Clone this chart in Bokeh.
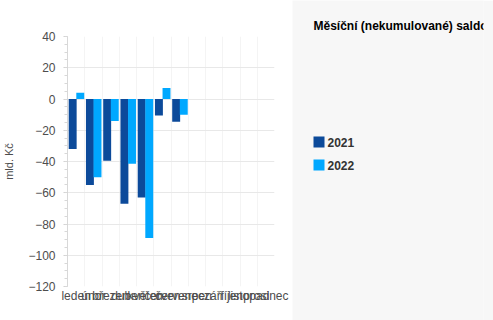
import math
from bokeh.plotting import figure
from bokeh.layouts import row
from bokeh.models import FixedTicker, Range1d, ColumnDataSource
from bokeh.core.properties import value
from bokeh.embed import file_html
from bokeh.resources import INLINE

months = ["leden", "únor", "březen", "duben", "květen", "červen", "červenec",
          "srpen", "září", "říjen", "listopad", "prosinec"]
v2021 = [-32, -55, -39.5, -67, -63, -10.5, -14.5, None, None, None, None, None]
v2022 = [4, -50, -14, -41.5, -89, 7, -10, None, None, None, None, None]
series_names = ["2021", "2022"]
series_colors = ["#0c4a9a", "#00a8ff"]
y_ticks = [-120, -100, -80, -60, -40, -20, 0, 20, 40]
title_text = "Měsíční (nekumulované) saldo"
y_title = "mld. Kč"

FONT = "Liberation Sans"

p = figure(width=292, height=320, output_backend="svg", toolbar_location=None,
           x_range=Range1d(0, len(months)), y_range=Range1d(-120, 40),
           min_border_left=66, min_border_right=18, min_border_top=36, min_border_bottom=34)
p.outline_line_color = None
p.background_fill_color = "white"
p.border_fill_color = "white"

offsets = [-0.2, 0.24]
width = 0.46
for vals, off, col in zip([v2021, v2022], offsets, series_colors):
    xs = [i + 0.5 + off for i, v in enumerate(vals) if v is not None]
    ys = [v for v in vals if v is not None]
    src = ColumnDataSource(dict(x=xs, top=ys))
    p.vbar(x="x", top="top", bottom=0, width=width, source=src,
           fill_color=col, line_color=None)

# axes
p.xaxis.ticker = FixedTicker(ticks=[i + 0.5 for i in range(len(months))])
p.xaxis.major_label_overrides = {i + 0.5: m for i, m in enumerate(months)}
p.xaxis.axis_line_color = None
p.xaxis.major_tick_line_color = None
p.xaxis.minor_tick_line_color = None
p.xaxis.major_tick_out = 0
p.xaxis.major_label_standoff = 2
p.xaxis.major_label_text_font = FONT
p.xaxis.major_label_text_font_size = "12px"
p.xaxis.major_label_text_color = "#4d4d4d"

p.yaxis.ticker = FixedTicker(ticks=y_ticks, minor_ticks=list(range(-120, 41, 5)))
p.yaxis.axis_line_color = "#d8d8d8"
p.yaxis.major_tick_line_color = "#d0d0d0"
p.yaxis.minor_tick_line_color = "#d8d8d8"
p.yaxis.major_tick_out = 4
p.yaxis.major_tick_in = 0
p.yaxis.minor_tick_out = 3
p.yaxis.minor_tick_in = 0
p.yaxis.major_label_standoff = 8
p.yaxis.major_label_text_font = FONT
p.yaxis.major_label_text_font_size = "12px"
p.yaxis.major_label_text_color = "#4d4d4d"
p.yaxis.axis_label = y_title
p.yaxis.axis_label_text_font = FONT
p.yaxis.axis_label_text_font_size = "11px"
p.yaxis.axis_label_text_font_style = "normal"
p.yaxis.axis_label_text_color = "#4d4d4d"
p.yaxis.axis_label_standoff = 10

p.ygrid.ticker = FixedTicker(ticks=y_ticks)
p.ygrid.grid_line_color = "#e8e8e8"
p.xgrid.ticker = FixedTicker(ticks=list(range(len(months) + 1)))
p.xgrid.grid_line_color = "#f4f4f4"

# right panel with title and legend (pixel coordinates from the canvas top)
q = figure(width=201, height=320, output_backend="svg", toolbar_location=None,
           x_range=Range1d(0, 191), y_range=Range1d(320, 0),
           min_border_left=0, min_border_right=10, min_border_top=0, min_border_bottom=0)
q.axis.visible = False
q.grid.visible = False
q.outline_line_color = None
q.background_fill_color = "#f7f7f7"
q.border_fill_color = "#f7f7f7"
if "frame_align" in q.properties():
    q.frame_align = False
    p.frame_align = False

q.text(x=[21], y=[25], text=[title_text], text_font=value(FONT), text_font_size="12px",
       text_font_style="bold", text_color="#000000", text_baseline="middle", text_align="left")

leg_y = [141.5, 164.5]
q.rect(x=[26.5, 26.5], y=leg_y, width=11, height=11, fill_color=series_colors, line_color=None)
q.text(x=[35, 35], y=leg_y, text=series_names, text_font=value(FONT), text_font_size="12px",
       text_font_style="bold", text_color="#333333", text_baseline="middle", text_align="left")

layout = row(p, q, spacing=0)
open("out.html", "w").write(file_html(layout, INLINE))
